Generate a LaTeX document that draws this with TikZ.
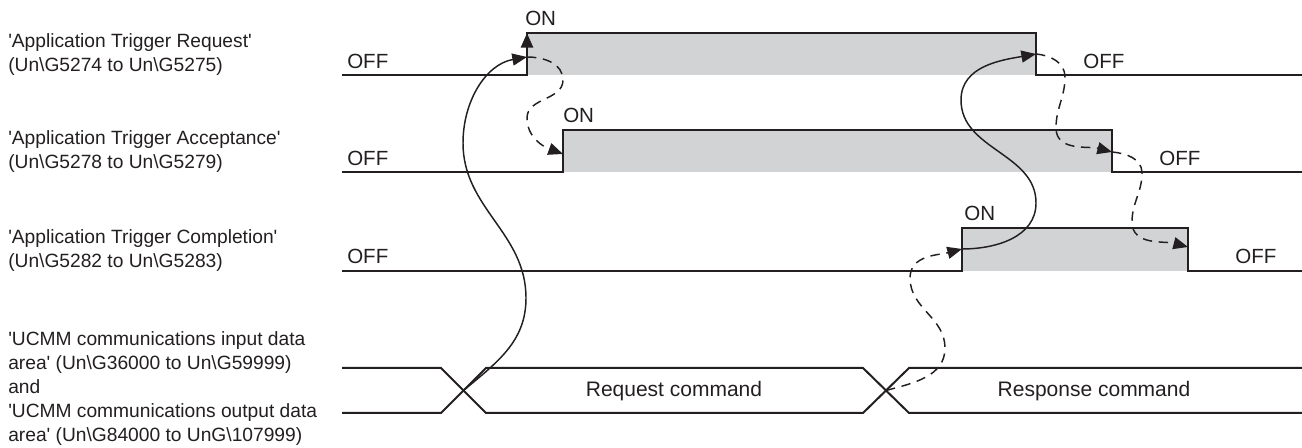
\documentclass[tikz,border=0pt]{standalone}
\usepackage{fontspec}
\newfontfamily\lf{Liberation Sans}
\usetikzlibrary{arrows.meta}
\definecolor{ink}{HTML}{231F20}
\definecolor{ongray}{HTML}{D1D3D4}
\begin{document}
\begin{tikzpicture}[x=0.75pt,y=0.75pt,
  wave/.style={draw=ink, line width=2pt, line join=miter},
  bus/.style={draw=ink, line width=1.5pt, line join=miter},
  link/.style={draw=ink, line width=1.1pt, -{Triangle[length=11pt,width=9pt]}},
  dlink/.style={link, dash pattern=on 7pt off 5pt},
  lab/.style={anchor=base west, inner sep=0, font=\lf\fontsize{14.4}{17}\selectfont, text=ink},
  st/.style={anchor=base west, inner sep=0, font=\lf\fontsize{15.4}{18}\selectfont, text=ink},
  cmd/.style={anchor=base, inner sep=0, font=\lf\fontsize{15.75}{18}\selectfont, text=ink}]
\useasboundingbox (0,0) rectangle (1302,448);

% shaded ON periods
\fill[ongray] (527,373) rectangle (1036,415);
\fill[ongray] (563,276) rectangle (1112,318);
\fill[ongray] (962,177) rectangle (1188,220);

% waveforms
\draw[wave] (342,373) -- (527,373) -- (527,415) -- (1036,415) -- (1036,373) -- (1302,373);
\draw[wave] (342,276) -- (563,276) -- (563,318) -- (1112,318) -- (1112,276) -- (1302,276);
\draw[wave] (342,177) -- (962,177) -- (962,220) -- (1188,220) -- (1188,177) -- (1302,177);

% data bus
\draw[bus] (342,80) -- (441,80) -- (486,35) -- (863,35) -- (909,80) -- (1302,80);
\draw[bus] (342,35) -- (441,35) -- (486,80) -- (863,80) -- (909,35) -- (1302,35);

% named points
\coordinate (x1) at (463.5,57.5);
\coordinate (x2) at (886,57.5);
\coordinate (r1on) at (527,391);
\coordinate (r1off) at (1036,394);
\coordinate (r2on) at (563,294);
\coordinate (r2off) at (1112,296);
\coordinate (r3on) at (962,199);
\coordinate (r3off) at (1188,201);
\coordinate (r1base) at (527,395);
\coordinate (r1top) at (527,415);

% rising-edge arrow
\draw[link, line width=2pt] (r1base) -- (r1top);

% solid links
\draw[link] (x1) to[out=40,in=-90] (526,150) to[out=90,in=-90] (463,305) to[out=90,in=190] (r1on);
\draw[link] (r3on) to[out=0,in=-90] (1036,245) to[out=90,in=-90] (961,348) to[out=90,in=190] (r1off);

% dashed links
\draw[dlink] (r1on) to[out=0,in=90] (563,368) to[out=-90,in=90] (527,330) to[out=-90,in=160] (r2on);
\draw[dlink] (r1off) to[out=-5,in=90] (1065,371) to[out=-90,in=90] (1056,320) to[out=-90,in=165] (r2off);
\draw[dlink] (r2off) to[out=-5,in=90] (1142,275) to[out=-90,in=90] (1132,226) to[out=-90,in=165] (r3off);
\draw[dlink] (x2) to[out=15,in=-90] (945,100) to[out=90,in=-90] (910,170) to[out=90,in=195] (r3on);

% left labels
\node[lab] (l1a) at (8,400) {'Application Trigger Request'};
\node[lab] (l1b) at (8,376) {(Un\textbackslash G5274 to Un\textbackslash G5275)};
\node[lab] (l2a) at (8,303) {'Application Trigger Acceptance'};
\node[lab] (l2b) at (8,279) {(Un\textbackslash G5278 to Un\textbackslash G5279)};
\node[lab] (l3a) at (8,204) {'Application Trigger Completion'};
\node[lab] (l3b) at (8,180) {(Un\textbackslash G5282 to Un\textbackslash G5283)};
\node[lab] (l4a) at (8,102) {'UCMM communications input data};
\node[lab] (l4b) at (8,78) {area' (Un\textbackslash G36000 to Un\textbackslash G59999)};
\node[lab] (l4c) at (8,54) {and};
\node[lab] (l4d) at (8,30) {'UCMM communications output data};
\node[lab] (l4e) at (8,6) {area' (Un\textbackslash G84000 to UnG\textbackslash 107999)};

% state labels
\node[st] (off1a) at (347,379) {OFF};
\node[st] (on1) at (525,422) {ON};
\node[st] (off1b) at (1083,379) {OFF};
\node[st] (off2a) at (347,282) {OFF};
\node[st] (on2) at (563,325) {ON};
\node[st] (off2b) at (1159,282) {OFF};
\node[st] (off3a) at (347,184) {OFF};
\node[st] (on3) at (964,227) {ON};
\node[st] (off3b) at (1235,184) {OFF};

% bus contents
\node[cmd] (req) at (674,51) {Request command};
\node[cmd] (resp) at (1094,51) {Response command};
\end{tikzpicture}
\end{document}
